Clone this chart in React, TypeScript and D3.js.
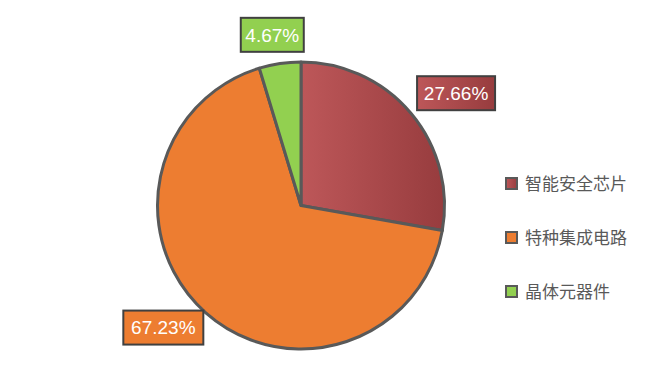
import React, { useEffect, useRef } from "react";
import * as d3 from "d3";

const categories = ["智能安全芯片", "特种集成电路", "晶体元器件"];
const shares = [27.66, 67.23, 4.67];
const labels = ["27.66%", "67.23%", "4.67%"];
const colors = ["url(#redGrad)", "#ed7d31", "#92d050"];

const App = () => {
  const svgRef = useRef<SVGSVGElement>(null);

  useEffect(() => {
    const width = 646, height = 391;
    const cx = 301, cy = 205.5, r = 143.5;

    const svg = d3.select(svgRef.current)
      .attr("width", width)
      .attr("height", height);
    svg.selectAll("*").remove();

    const defs = svg.append("defs");
    const grad = defs.append("linearGradient")
      .attr("id", "redGrad")
      .attr("x1", "0").attr("y1", "0")
      .attr("x2", "1").attr("y2", "0");
    grad.append("stop").attr("offset", "0%").attr("stop-color", "#bd5759");
    grad.append("stop").attr("offset", "100%").attr("stop-color", "#973c3e");

    const pie = d3.pie<number>().sort(null).value(d => d);
    const arcs = pie(shares);
    const arc = d3.arc<d3.PieArcDatum<number>>().innerRadius(0).outerRadius(r);

    const g = svg.append("g").attr("transform", `translate(${cx},${cy})`);

    g.selectAll("path")
      .data(arcs)
      .enter().append("path")
      .attr("d", arc)
      .attr("fill", (d, i) => colors[i])
      .attr("stroke", "#595959")
      .attr("stroke-width", 3)
      .attr("stroke-linejoin", "round");

    // data labels, outside end
    const boxW = [78, 80, 63], boxH = 34, off = 8;
    const clamp = (v: number) => Math.max(-1, Math.min(1, v));
    arcs.forEach((d, i) => {
      const a = (d.startAngle + d.endAngle) / 2;
      const s = Math.sin(a), c = Math.cos(a);
      const px = (r + off) * s, py = -(r + off) * c;
      const lx = px + (boxW[i] / 2) * clamp(s * 1.4);
      const ly = py - (boxH / 2) * c - 4;
      const lg = g.append("g").attr("transform", `translate(${lx},${ly})`);
      lg.append("rect")
        .attr("x", -boxW[i] / 2)
        .attr("y", -boxH / 2)
        .attr("width", boxW[i])
        .attr("height", boxH)
        .attr("fill", colors[i])
        .attr("stroke", "#404040")
        .attr("stroke-width", 2);
      lg.append("text")
        .attr("text-anchor", "middle")
        .attr("dy", "0.36em")
        .attr("fill", "#ffffff")
        .attr("font-family", "Liberation Sans, Arial, sans-serif")
        .attr("font-size", 19)
        .text(labels[i]);
    });

    // legend
    const legendY = d3.scalePoint<string>()
      .domain(categories)
      .range([184, 292]);

    const lg = svg.append("g");
    categories.forEach((cat, i) => {
      const y = legendY(cat) as number;
      lg.append("rect")
        .attr("x", 506)
        .attr("y", y - 6)
        .attr("width", 11)
        .attr("height", 11)
        .attr("fill", colors[i])
        .attr("stroke", "#595959")
        .attr("stroke-width", 2);
      lg.append("text")
        .attr("x", 525)
        .attr("y", y)
        .attr("dy", "0.35em")
        .attr("fill", "#595959")
        .attr("font-family", "Noto Sans CJK SC, sans-serif")
        .attr("font-size", 17)
        .text(cat);
    });
  }, []);

  return (
    <svg ref={svgRef} style={{ position: "absolute", left: 0, top: 0, background: "#ffffff" }}></svg>
  );
};

export default App;
